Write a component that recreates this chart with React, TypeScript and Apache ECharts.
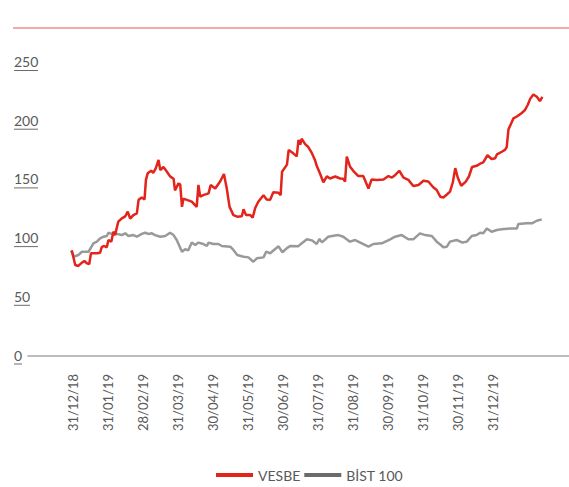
import React, { useEffect, useRef } from "react";
import * as echarts from "echarts";

// x = months after 31/12/18 (fractional), y = index value
const dateLabels = [
  "31/12/18", "31/01/19", "28/02/19", "31/03/19", "30/04/19", "31/05/19", "30/06/19",
  "31/07/19", "31/08/19", "30/09/19", "31/10/19", "30/11/19", "31/12/19",
];
const yTicks = [0, 50, 100, 150, 200, 250];

const vesbe: [number, number][] = [
  [-0.04, 90], [0.06, 77.5], [0.15, 76.7], [0.25, 79.5], [0.32, 81], [0.39, 79], [0.46, 78.4],
  [0.51, 87.5], [0.68, 87.5], [0.77, 88], [0.82, 93], [0.89, 93.7], [0.96, 92.6], [1.01, 98.8],
  [1.09, 97.4], [1.15, 105.9], [1.2, 103], [1.25, 109.6], [1.29, 114.4], [1.39, 117.3],
  [1.49, 119], [1.56, 123], [1.63, 117], [1.72, 120], [1.82, 121.5], [1.87, 133], [1.96, 135],
  [2.04, 133.4], [2.08, 150], [2.13, 155.6], [2.23, 157.8], [2.29, 156], [2.36, 159.8],
  [2.44, 167], [2.49, 158.4], [2.58, 161], [2.68, 157], [2.77, 153], [2.87, 151], [2.91, 141],
  [3.01, 147], [3.06, 146], [3.11, 127], [3.15, 134], [3.25, 133], [3.39, 131.5], [3.53, 127],
  [3.58, 145.7], [3.63, 135.7], [3.72, 137], [3.87, 138.5], [3.93, 145.7], [4.06, 142.7],
  [4.2, 148.6], [4.31, 155], [4.39, 142.7], [4.47, 127], [4.58, 120], [4.69, 118.7],
  [4.82, 119], [4.87, 125], [4.94, 120], [5.06, 120], [5.13, 117.9], [5.2, 125.8],
  [5.29, 131.4], [5.44, 137], [5.53, 133.4], [5.63, 133], [5.72, 139.4], [5.87, 139],
  [5.93, 137], [5.97, 157], [6.11, 163], [6.16, 175.5], [6.29, 172.6], [6.39, 170],
  [6.44, 184], [6.49, 180], [6.53, 185], [6.63, 180.5], [6.72, 178], [6.82, 173], [6.91, 167],
  [6.96, 162], [7.06, 155], [7.15, 148], [7.25, 153], [7.34, 151.2], [7.49, 152.9],
  [7.63, 151.2], [7.72, 151], [7.77, 148.6], [7.82, 169.8], [7.91, 161.5], [8.01, 157.5],
  [8.15, 153.3], [8.29, 153.3], [8.44, 142.7], [8.53, 150.4], [8.68, 150], [8.87, 150.4],
  [9.01, 153.3], [9.11, 152], [9.2, 154], [9.32, 157.8], [9.44, 152], [9.58, 150],
  [9.72, 144.8], [9.87, 145.7], [10.01, 149.3], [10.15, 148.6], [10.29, 143.7], [10.39, 141.4],
  [10.49, 135.7], [10.58, 135], [10.68, 137.6], [10.77, 140], [10.85, 148], [10.92, 160],
  [10.99, 152], [11.09, 145], [11.22, 148.6], [11.31, 152.9], [11.4, 161], [11.53, 162],
  [11.63, 163.8], [11.72, 165], [11.84, 171], [11.96, 167.8], [12.06, 168.5], [12.11, 171.7],
  [12.25, 174], [12.34, 175.5], [12.39, 178], [12.44, 193], [12.58, 202.4], [12.68, 204],
  [12.82, 207], [12.91, 209.5], [12.99, 213.8], [13.06, 219], [13.15, 222.8], [13.25, 220.8],
  [13.34, 217.2], [13.41, 220.8],
];

const bist100: [number, number][] = [
  [-0.06, 89.7], [0.03, 84.6], [0.15, 86], [0.25, 88.8], [0.44, 88.8], [0.58, 96], [0.68, 97.4],
  [0.77, 100.2], [0.87, 101.6], [0.96, 102.2], [1.01, 105], [1.11, 104], [1.25, 104],
  [1.39, 103], [1.49, 104.5], [1.58, 102.2], [1.72, 103], [1.82, 101.6], [1.96, 104],
  [2.06, 105], [2.15, 104], [2.25, 104.5], [2.34, 103], [2.49, 101.6], [2.63, 102.2],
  [2.77, 105], [2.87, 103], [2.96, 98.8], [3.11, 88.8], [3.2, 90.9], [3.29, 90], [3.39, 96.6],
  [3.49, 94.5], [3.58, 96.6], [3.72, 95.4], [3.82, 93.7], [3.87, 96.6], [4.01, 95.4],
  [4.15, 95.4], [4.25, 93.7], [4.49, 93.1], [4.58, 90.3], [4.69, 86], [4.87, 84.6], [5.01, 84],
  [5.15, 80.3], [5.25, 83.2], [5.44, 84], [5.52, 89], [5.63, 87.5], [5.74, 90.3], [5.87, 93.4],
  [5.98, 88.4], [6.11, 91.9], [6.2, 93.7], [6.44, 93.5], [6.49, 95], [6.68, 99.4], [6.82, 98.5],
  [6.96, 95.4], [7.04, 99.7], [7.11, 96.8], [7.29, 101.6], [7.44, 102.5], [7.58, 103],
  [7.72, 101.6], [7.91, 97.4], [8.06, 98.8], [8.25, 96], [8.44, 93.1], [8.58, 95.4], [8.82, 96],
  [9.06, 99.4], [9.2, 101.6], [9.39, 103], [9.58, 99.4], [9.72, 99.4], [9.91, 104.5],
  [10.06, 103], [10.25, 102.2], [10.39, 97.4], [10.49, 95], [10.58, 92.6], [10.68, 93.1],
  [10.77, 97.4], [10.96, 98.8], [11.13, 96.6], [11.25, 97.4], [11.39, 102.2], [11.53, 103],
  [11.63, 105], [11.72, 104.5], [11.82, 108.6], [11.96, 105.8], [12.11, 107.3], [12.25, 107.9],
  [12.49, 108.6], [12.68, 108.6], [12.72, 112.4], [12.96, 113], [13.11, 113], [13.25, 115.2],
  [13.39, 116.4],
];

const FONT = "Lato";
const TEXT = "#595959";

export default function App() {
  const ref = useRef<HTMLDivElement>(null);
  useEffect(() => {
    if (!ref.current) return;
    const chart = echarts.init(ref.current, null, { renderer: "svg" });
    chart.setOption({
      animation: false,
      backgroundColor: "#ffffff",
      textStyle: { fontFamily: FONT },
      graphic: [
        {
          type: "line",
          shape: { x1: 13, y1: 28, x2: 569, y2: 28 },
          style: { stroke: "#ef8d88", lineWidth: 1.5 },
        },
      ],
      grid: { left: 28, right: 0, top: 62.5, bottom: 131 },
      legend: {
        left: 211,
        top: 463,
        icon: "rect",
        itemWidth: 37,
        itemHeight: 4,
        itemGap: 4,
        textStyle: { color: TEXT, fontSize: 14, fontFamily: FONT },
        data: [
          { name: "VESBE", itemStyle: { color: "#e3241b" } },
          { name: "BİST 100", itemStyle: { color: "#6b6b6b" } },
        ],
      },
      xAxis: {
        type: "value",
        min: -1.29,
        max: 14.17,
        axisLine: { show: true, lineStyle: { color: "#a6a6a6", width: 1.5 } },
        axisTick: { show: false },
        splitLine: { show: false },
        axisLabel: {
          customValues: dateLabels.map((_, i) => i),
          formatter: (v: number) => dateLabels[Math.round(v)] ?? "",
          rotate: 90,
          margin: 18,
          color: TEXT,
          fontSize: 13,
          fontFamily: FONT,
        },
      },
      yAxis: {
        type: "value",
        min: 0,
        max: 250,
        interval: 50,
        axisLine: { show: false },
        axisTick: { show: false },
        splitLine: { show: false },
        axisLabel: {
          align: "left",
          margin: 14,
          formatter: (v: number) => {
            const s = String(v);
            return `{v|${s}}\n{u${s.length}|}`;
          },
          rich: {
            v: { color: TEXT, fontSize: 14, fontFamily: FONT, lineHeight: 16 },
            u1: { width: 8, height: 1, backgroundColor: "#6b6b6b", lineHeight: 2 },
            u2: { width: 16, height: 1, backgroundColor: "#6b6b6b", lineHeight: 2 },
            u3: { width: 24, height: 1, backgroundColor: "#6b6b6b", lineHeight: 2 },
          },
        },
      },
      series: [
        {
          name: "BİST 100",
          type: "line",
          data: bist100,
          showSymbol: false,
          z: 2,
          lineStyle: { color: "#999999", width: 2.5 },
          itemStyle: { color: "#999999" },
        },
        {
          name: "VESBE",
          type: "line",
          data: vesbe,
          showSymbol: false,
          z: 3,
          lineStyle: { color: "#e3241b", width: 2.5 },
          itemStyle: { color: "#e3241b" },
        },
      ],
    });
    return () => chart.dispose();
  }, []);
  return (
    <div
      ref={ref}
      style={{ position: "fixed", left: 0, top: 0, width: 569, height: 487 }}
    />
  );
}
